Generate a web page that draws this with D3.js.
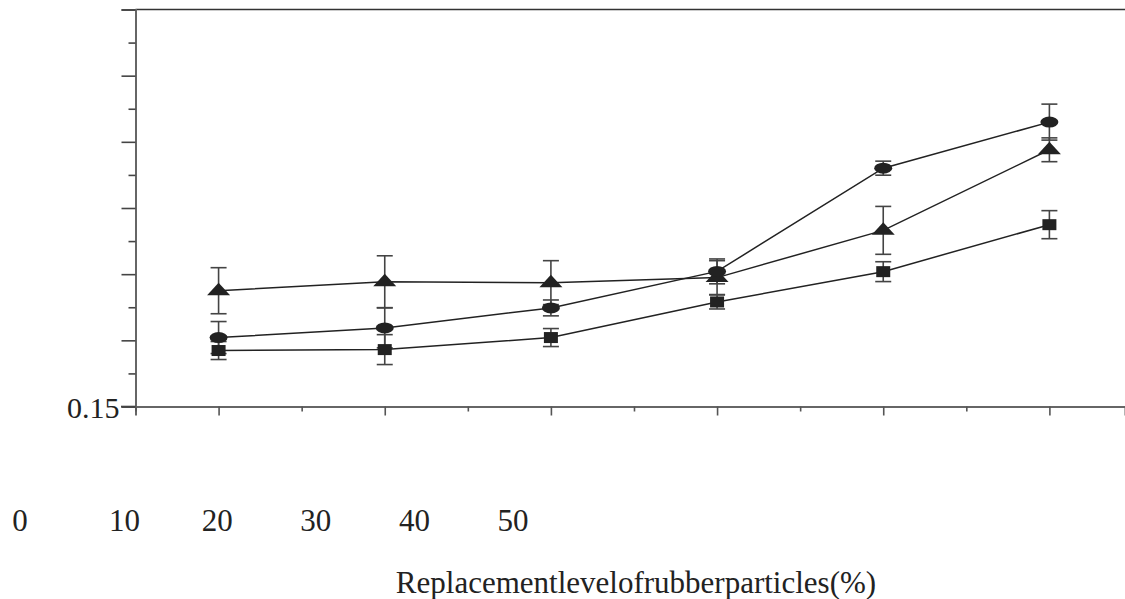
<!DOCTYPE html>
<html>
<head>
<meta charset="utf-8">
<script src="https://cdn.jsdelivr.net/npm/d3@7"></script>
<style>
  html, body { margin: 0; padding: 0; background: #fff; }
  svg { display: block; }
  text { font-family: "Liberation Serif", "Times New Roman", serif; fill: #222; }
</style>
</head>
<body>
<svg id="chart" width="1125" height="599"></svg>
<script>
// ---- data ----
const levels = [0, 10, 20, 30, 40, 50];
const squareVals = [0.1923, 0.1930, 0.2021, 0.2290, 0.2519, 0.2874];
const squareErr  = [0.0068, 0.0113, 0.0068, 0.0053, 0.0075, 0.0106];
const circleVals = [0.2021, 0.2094, 0.2245, 0.2521, 0.3301, 0.3649];
const circleErr  = [0.0121, 0.0151, 0.0060, 0.0094, 0.0053, 0.0136];
const triVals    = [0.2375, 0.2443, 0.2436, 0.2474, 0.2831, 0.3440];
const triErr     = [0.0174, 0.0196, 0.0166, 0.0128, 0.0181, 0.0090];
const yTickLabels = ["0.15"];
const xTickLabels = ["0", "10", "20", "30", "40", "50"];
const xTitle = "Replacementlevelofrubberparticles(%)";

// ---- layout ----
const svg = d3.select("#chart");
const plotLeft = 135.5, plotRight = 1125, plotTop = 9.5, plotBottom = 406.5;
const x = d3.scaleLinear().domain([-5, 54.55]).range([plotLeft, plotRight]);
const y = d3.scaleLinear().domain([0.15, 0.45]).range([plotBottom, plotTop]);
const axisColor = "#666";
const ink = "#222";

// top border
svg.append("line").attr("x1", plotLeft).attr("x2", plotRight)
  .attr("y1", plotTop).attr("y2", plotTop)
  .attr("stroke", "#333").attr("stroke-width", 1.6);

// y axis: major + minor ticks
const yMajor = d3.range(0, 7).map(i => 0.15 + i * 0.05);
const yMinor = d3.range(0, 6).map(i => 0.175 + i * 0.05);
const yAxisMajor = d3.axisLeft(y).tickValues(yMajor).tickSize(14)
  .tickFormat(d => Math.abs(d - 0.15) < 1e-9 ? yTickLabels[0] : "");
const gy = svg.append("g").attr("transform", `translate(${plotLeft},0)`).call(yAxisMajor);
const gyMinor = svg.append("g").attr("transform", `translate(${plotLeft},0)`)
  .call(d3.axisLeft(y).tickValues(yMinor).tickSize(7).tickFormat(""));
[gy, gyMinor].forEach(g => {
  g.select(".domain").attr("stroke", axisColor).attr("stroke-width", 2);
  g.selectAll(".tick line").attr("stroke", "#444").attr("stroke-width", 1.6);
});
gyMinor.select(".domain").remove();
gy.selectAll(".tick text")
  .attr("font-size", 30).attr("fill", ink).attr("x", -16).attr("dy", "0.36em");

// x axis: major + minor ticks
const xMajor = levels;
const xMinor = d3.range(-5, 55, 10);
const gx = svg.append("g").attr("transform", `translate(0,${plotBottom})`)
  .call(d3.axisBottom(x).tickValues(xMajor).tickSize(9).tickFormat(""));
const gxMinor = svg.append("g").attr("transform", `translate(0,${plotBottom})`)
  .call(d3.axisBottom(x).tickValues(xMinor).tickSize(5).tickFormat(""));
[gx, gxMinor].forEach(g => {
  g.select(".domain").attr("stroke", axisColor).attr("stroke-width", 2);
  g.selectAll(".tick line").attr("stroke", "#555").attr("stroke-width", 1.6);
});
gxMinor.select(".domain").remove();
svg.append("line").attr("x1", 121).attr("x2", plotLeft)
  .attr("y1", plotBottom).attr("y2", plotBottom)
  .attr("stroke", "#444").attr("stroke-width", 1.6);

// detached x tick labels (as in the reference)
const xl = d3.scaleLinear().domain([0, 50]).range([20, 513]);
svg.append("g").selectAll("text").data(xTickLabels).join("text")
  .attr("x", (d, i) => xl(levels[i]) + (i === 1 ? 6 : 0)).attr("y", 531)
  .attr("text-anchor", "middle").attr("font-size", 31).text(d => d);

svg.append("text").attr("x", 636).attr("y", 593)
  .attr("text-anchor", "middle").attr("font-size", 31).text(xTitle);

// ---- series ----
const series = [
  { vals: triVals, err: triErr, shape: "tri" },
  { vals: circleVals, err: circleErr, shape: "circle" },
  { vals: squareVals, err: squareErr, shape: "square" }
];
const line = d3.line().x((d, i) => x(levels[i])).y(d => y(d));

// error bars
series.forEach(s => {
  const g = svg.append("g");
  g.selectAll("line.v").data(s.vals).join("line")
    .attr("x1", (d, i) => x(levels[i])).attr("x2", (d, i) => x(levels[i]))
    .attr("y1", (d, i) => y(d + s.err[i])).attr("y2", (d, i) => y(d - s.err[i]))
    .attr("stroke", "#444").attr("stroke-width", 1.6);
  [1, -1].forEach(sg => {
    g.selectAll(null).data(s.vals).join("line")
      .attr("x1", (d, i) => x(levels[i]) - 8).attr("x2", (d, i) => x(levels[i]) + 8)
      .attr("y1", (d, i) => y(d + sg * s.err[i])).attr("y2", (d, i) => y(d + sg * s.err[i]))
      .attr("stroke", "#444").attr("stroke-width", 1.6);
  });
});

// lines
series.forEach(s => {
  svg.append("path").datum(s.vals).attr("d", line)
    .attr("fill", "none").attr("stroke", ink).attr("stroke-width", 1.5);
});

// markers
series.forEach(s => {
  const g = svg.append("g");
  if (s.shape === "square") {
    g.selectAll("rect").data(s.vals).join("rect")
      .attr("x", (d, i) => x(levels[i]) - 7).attr("y", d => y(d) - 5.5)
      .attr("width", 14).attr("height", 11).attr("fill", ink);
  } else if (s.shape === "circle") {
    g.selectAll("ellipse").data(s.vals).join("ellipse")
      .attr("cx", (d, i) => x(levels[i])).attr("cy", d => y(d))
      .attr("rx", 9).attr("ry", 5.5).attr("fill", ink);
  } else {
    g.selectAll("path").data(s.vals).join("path")
      .attr("d", (d, i) => {
        const cx = x(levels[i]), cy = y(d);
        return `M${cx},${cy - 8}L${cx + 11.5},${cy + 4.5}L${cx - 11.5},${cy + 4.5}Z`;
      })
      .attr("fill", ink);
  }
});
</script>
</body>
</html>
